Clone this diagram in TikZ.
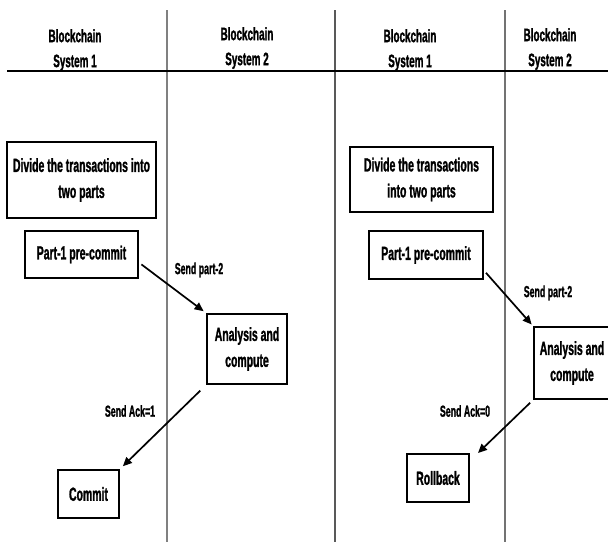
\documentclass[tikz,border=0pt]{standalone}
\usepackage{fontspec}
\setmainfont{Liberation Sans}[FakeStretch=0.55, BoldFeatures={FakeBold=1.2}]
\usetikzlibrary{arrows.meta,calc}
\tikzset{
  stepbox/.style={draw=black, line width=2pt, inner sep=0pt, align=center,
    font=\bfseries\fontsize{19}{26}\selectfont},
  header/.style={align=center, inner sep=0pt, font=\bfseries\fontsize{18}{25}\selectfont},
  msg/.style={inner sep=0pt, font=\bfseries\fontsize{16}{18}\selectfont},
  flow/.style={line width=1.7pt, -{Triangle[length=9pt,width=8pt]}},
  lane/.style={line width=1.2pt}
}
\begin{document}
\begin{tikzpicture}[x=1pt,y=-1pt]
\useasboundingbox (0,0) rectangle (608,542);
\clip (0,0) rectangle (608,542);
\fill[white] (0,0) rectangle (608,542);

% lane dividers and header rule
\coordinate (l1t) at (167,10);  \coordinate (l1b) at (167,542);
\coordinate (l2t) at (335,10);  \coordinate (l2b) at (335,542);
\coordinate (l3t) at (505,10);  \coordinate (l3b) at (505,542);
\coordinate (hl) at (7,71);     \coordinate (hr) at (608,71);
\draw[lane, black!50] (l1t) -- (l1b);
\draw[lane, black!65] (l2t) -- (l2b);
\draw[lane, black!55] (l3t) -- (l3b);
\draw[line width=1.4pt] (hl) -- (hr);

% headers
\node[header] (h1) at (75,50) {Blockchain\\System 1};
\node[header] (h2) at (247,48) {Blockchain\\System 2};
\node[header] (h3) at (410,50) {Blockchain\\System 1};
\node[header] (h4) at (550,49) {Blockchain\\System 2};

% successful exchange
\node[stepbox, minimum width=149pt, minimum height=76pt] (div1) at (81.5,180) {Divide the transactions into\\two parts};
\node[stepbox, minimum width=113pt, minimum height=47pt] (p1) at (81.5,254.5) {Part-1 pre-commit};
\node[stepbox, minimum width=80pt, minimum height=70pt] (a1) at (247,349) {Analysis and\\compute};
\node[stepbox, minimum width=61pt, minimum height=48pt] (c1) at (88.5,494) {Commit};
\node[msg] (s1) at (199,270) {Send part-2};
\node[msg] (k1) at (130,411) {Send Ack=1};
\draw[flow, shorten <=3pt, shorten >=3pt] (p1.-8) -- (a1.north west);
\draw[flow, shorten <=8pt, shorten >=4pt] (a1.south west) -- (c1.north east);

% failed exchange
\node[stepbox, minimum width=143pt, minimum height=65pt] (div2) at (421.5,179.5) {Divide the transactions\\into two parts};
\node[stepbox, minimum width=114pt, minimum height=48pt] (p2) at (426,255) {Part-1 pre-commit};
\node[stepbox, minimum width=76pt, minimum height=72pt] (a2) at (572,363) {Analysis and\\compute};
\node[stepbox, minimum width=62pt, minimum height=48pt] (r2) at (438,478) {Rollback};
\node[msg] (s2) at (548,293) {Send part-2};
\node[msg] (k2) at (465,411) {Send Ack=0};
\draw[flow, shorten <=3pt, shorten >=2pt] (p2.-15) -- (a2.north west);
\draw[flow, shorten <=4pt] (a2.south west) -- ([xshift=8pt]r2.north east);
\end{tikzpicture}
\end{document}
